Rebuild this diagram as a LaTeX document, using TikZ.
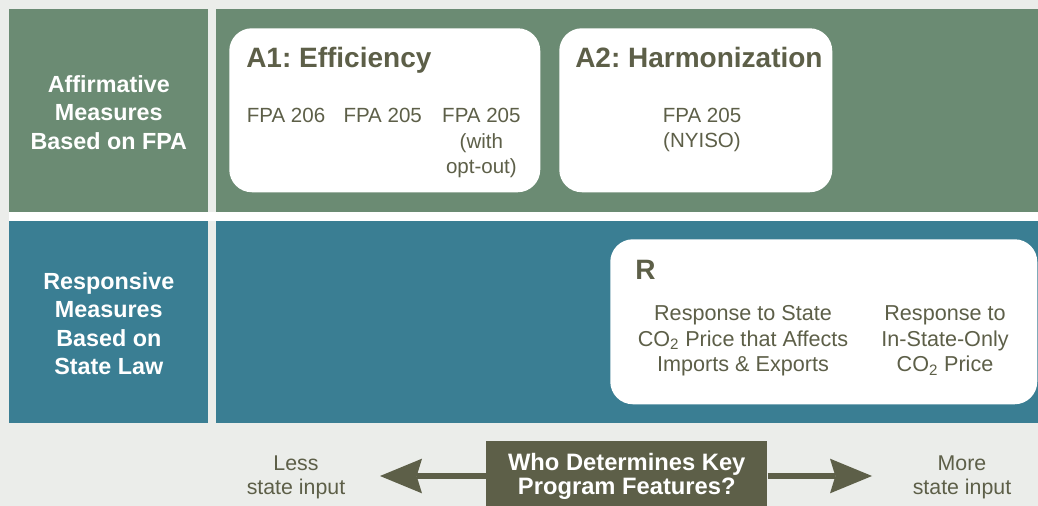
\documentclass[tikz,border=0pt]{standalone}
\usepackage{fontspec}
\setmainfont{Liberation Sans}
\usetikzlibrary{arrows.meta}
\definecolor{bggray}{HTML}{EBEDEA}
\definecolor{fpagreen}{HTML}{6B8B73}
\definecolor{lawteal}{HTML}{3A7E93}
\definecolor{olivetext}{HTML}{5D5F48}
\tikzset{
  panel/.style={inner sep=0pt, anchor=north west},
  sidelabel/.style={inner sep=0pt, text=white, align=center, font=\fontsize{17.5}{21.4}\selectfont\bfseries},
  roundbox/.style={panel, fill=white, rounded corners=17pt},
  boxtitle/.style={anchor=base west, inner sep=0pt, text=olivetext, font=\fontsize{21}{24}\selectfont\bfseries},
  boxtext/.style={anchor=base, inner sep=0pt, text=olivetext, align=center, font=\fontsize{15.4}{19}\selectfont},
  resptext/.style={boxtext, font=\fontsize{16.2}{19.1}\selectfont},
  scaletext/.style={boxtext, font=\fontsize{16}{17.3}\selectfont},
  whobox/.style={panel, fill=olivetext, text=white, align=center, font=\fontsize{17.8}{18}\selectfont\bfseries},
  arrowline/.style={draw=olivetext, line width=4.5pt, -{Stealth[length=31.5pt, width=26pt, inset=4pt, line width=0pt]}}
}
\begin{document}
\frenchspacing
\begin{tikzpicture}[x=0.75pt, y=-0.75pt]
  \useasboundingbox (0, 0) rectangle (1038, 506);
  \fill[bggray] (0, 0) rectangle (1038, 506);
  \fill[white] (9, 212) rectangle (1038, 221);
  \node[panel, fill=fpagreen, minimum width=149.25pt, minimum height=152.25pt] (fpaside) at (9, 9) {};
  \node[panel, fill=fpagreen, minimum width=616.5pt, minimum height=152.25pt] (fparow) at (216, 9) {};
  \node[panel, fill=lawteal, minimum width=149.25pt, minimum height=151pt] (lawside) at (9, 221) {};
  \node[panel, fill=lawteal, minimum width=616.5pt, minimum height=151pt] (lawrow) at (216, 221) {};
  \node[sidelabel] (affirm) at (108.8, 112.5) {Affirmative\\Measures\\Based on FPA};
  \node[sidelabel] (respond) at (108.8, 323.5) {Responsive\\Measures\\Based on\\State Law};
  \node[roundbox, minimum width=233.25pt, minimum height=123pt] (effic) at (229, 28) {};
  \node[roundbox, minimum width=204.75pt, minimum height=123pt] (harmon) at (559, 28) {};
  \node[roundbox, minimum width=320.25pt, minimum height=123.75pt] (resp) at (610, 239) {};
  \node[boxtitle] (efftitle) at (246, 68) {A1: Efficiency};
  \node[boxtitle] (harmtitle) at (575, 68) {A2: Harmonization};
  \node[boxtitle] (resptitle) at (635, 279.5) {R};
  \node[boxtext] (fpa206) at (286, 122.7) {FPA 206};
  \node[boxtext] (fpa205) at (382.7, 122.7) {FPA 205};
  \node[boxtext] (fpa205opt) at (481.4, 173.4) {FPA 205\\(with\\opt-out)};
  \node[boxtext] (nyiso) at (702, 148) {FPA 205\\(NYISO)};
  \node[resptext] (stateprice) at (743, 371.7) {Response to State\\CO\textsubscript{2} Price that Affects\\Imports \& Exports};
  \node[resptext] (instate) at (945, 371.7) {Response to\\In-State-Only\\CO\textsubscript{2} Price};
  \node[scaletext] (less) at (296, 494) {Less\\state input};
  \node[scaletext] (more) at (962, 494) {More\\state input};
  \node[whobox, minimum width=210.75pt, minimum height=53.25pt] (who) at (486, 441) {Who Determines Key\\Program Features?};
  \coordinate (lesstip) at (380, 476);
  \coordinate (moretip) at (872, 476);
  \draw[arrowline] (who.west |- lesstip) -- (lesstip);
  \draw[arrowline] (who.east |- moretip) -- (moretip);
\end{tikzpicture}
\end{document}
